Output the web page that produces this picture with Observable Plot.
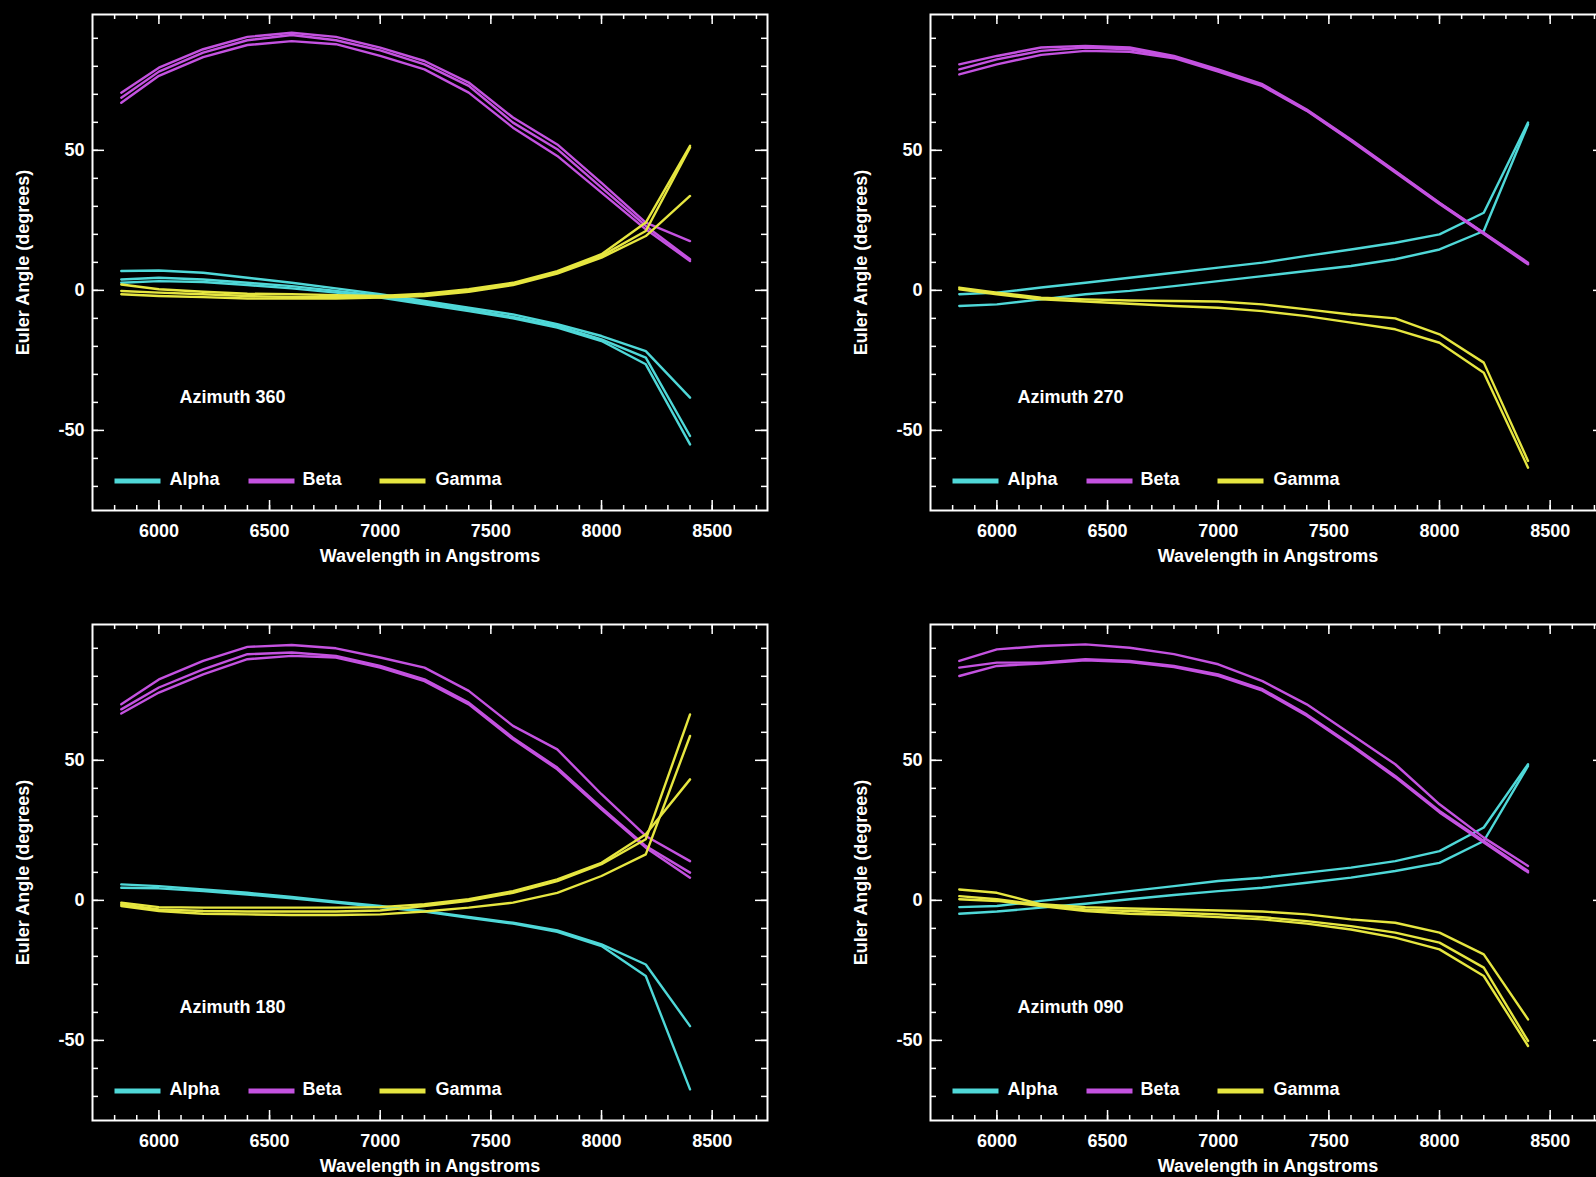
<!DOCTYPE html>
<html><head><meta charset="utf-8">
<script src="https://cdn.jsdelivr.net/npm/d3@7"></script>
<script src="https://cdn.jsdelivr.net/npm/@observablehq/plot@0.6"></script>
<style>
html,body{margin:0;padding:0;background:#000;}
#root{position:relative;width:1596px;height:1177px;overflow:hidden;background:#000;}
.panel{position:absolute;width:800px;height:580px;}
.panel svg{max-width:none !important;display:block;}
</style></head><body><div id="root"></div>
<script>
// ---- data ----
const wavelengths = [5830, 6000, 6200, 6400, 6600, 6800, 7000, 7200, 7400, 7600, 7800, 8000, 8200, 8400];
const seriesNames = ["Alpha", "Beta", "Gamma"];
const seriesColors = ["#4fd8d8", "#c452e0", "#e6e640"];
const xTickValues = [6000, 6500, 7000, 7500, 8000, 8500];
const yTickValues = [-50, 0, 50];
const xAxisTitle = "Wavelength in Angstroms";
const yAxisTitle = "Euler Angle (degrees)";

const az360Alpha = [
  [6.9, 7.1, 6.3, 4.5, 2.7, 0.7, -1.4, -3.8, -6.2, -8.6, -12.1, -16.3, -21.7, -38.3],
  [3.9, 4.5, 3.9, 2.7, 1.5, -0.2, -2.0, -4.4, -6.8, -9.5, -12.7, -17.5, -24.0, -52.0],
  [2.7, 3.3, 3.0, 1.9, 0.7, -0.8, -2.6, -5.0, -7.4, -10.0, -13.3, -18.1, -26.4, -55.0]
];
const az360Beta = [
  [70.6, 79.5, 86.1, 90.5, 92.0, 90.5, 86.7, 81.9, 74.2, 61.7, 52.1, 38.4, 24.2, 17.6],
  [68.8, 78.1, 84.9, 89.3, 91.2, 89.3, 85.7, 80.7, 73.0, 59.9, 50.4, 36.7, 23.0, 11.1],
  [67.0, 76.6, 83.3, 87.6, 89.0, 87.9, 83.7, 78.9, 70.6, 58.1, 48.0, 34.9, 21.8, 10.5]
];
const az360Gamma = [
  [2.1, 0.4, -0.5, -1.2, -1.4, -1.7, -2.0, -1.2, 0.4, 2.7, 6.9, 12.9, 24.2, 51.6],
  [-0.2, -0.8, -1.4, -2.0, -2.4, -2.4, -2.4, -1.7, 0.0, 2.4, 6.3, 12.3, 21.2, 51.0],
  [-1.4, -2.0, -2.4, -2.9, -2.9, -2.9, -2.6, -2.0, -0.5, 1.9, 6.0, 11.7, 19.4, 33.7]
];

const az270Alpha = [
  [-1.4, -0.8, 1.0, 2.7, 4.5, 6.3, 8.1, 9.9, 12.3, 14.6, 17.0, 20.0, 27.7, 59.9],
  [-5.6, -5.0, -3.2, -1.4, -0.2, 1.5, 3.3, 5.1, 6.9, 8.7, 11.1, 14.6, 21.2, 59.3]
];
const az270Beta = [
  [80.7, 83.7, 86.7, 87.3, 86.7, 83.7, 78.9, 73.6, 64.6, 53.9, 42.6, 31.3, 20.6, 9.9],
  [78.9, 82.5, 85.5, 86.7, 86.1, 83.3, 78.6, 73.2, 64.3, 53.6, 42.4, 31.1, 20.4, 9.5],
  [77.1, 80.7, 84.1, 85.5, 85.2, 82.9, 78.1, 72.9, 64.1, 53.3, 42.1, 30.8, 20.1, 9.3]
];
const az270Gamma = [
  [1.0, -0.8, -2.6, -3.2, -3.6, -3.8, -4.0, -5.0, -6.8, -8.6, -10.0, -15.7, -25.8, -60.9],
  [0.4, -1.4, -3.2, -4.0, -4.8, -5.6, -6.2, -7.4, -9.2, -11.5, -13.9, -18.7, -29.4, -63.3]
];

const az180Alpha = [
  [5.7, 5.1, 3.9, 2.7, 1.2, -0.5, -2.0, -3.8, -5.9, -8.0, -10.7, -15.7, -22.9, -44.9],
  [4.5, 4.3, 3.3, 2.1, 0.7, -0.8, -2.4, -4.0, -6.2, -8.3, -11.2, -16.3, -27.0, -67.5]
];
const az180Beta = [
  [70.0, 78.9, 85.5, 90.5, 91.2, 90.0, 86.7, 83.1, 74.8, 62.3, 53.9, 37.9, 23.0, 14.0],
  [68.2, 76.0, 82.5, 87.9, 88.5, 87.3, 83.7, 78.9, 70.6, 58.1, 47.4, 33.1, 19.4, 9.9],
  [66.7, 74.2, 80.7, 86.1, 87.3, 86.7, 83.1, 78.3, 70.0, 57.5, 46.8, 32.5, 18.8, 8.1]
];
const az180Gamma = [
  [-0.8, -2.4, -2.6, -2.6, -2.6, -2.6, -2.4, -1.4, 0.4, 3.3, 7.5, 13.4, 23.6, 43.2],
  [-1.4, -3.2, -3.8, -4.0, -4.0, -4.0, -3.6, -2.0, -0.2, 2.7, 6.9, 12.9, 21.8, 66.4],
  [-2.0, -3.8, -4.8, -5.0, -5.2, -5.2, -5.0, -4.0, -2.6, -0.8, 2.7, 8.7, 16.4, 58.7]
];

const az090Alpha = [
  [-2.4, -2.0, -0.2, 1.5, 3.3, 5.1, 6.9, 8.1, 9.9, 11.7, 14.0, 17.6, 26.0, 48.6],
  [-4.8, -4.0, -2.6, -1.2, 0.4, 1.9, 3.3, 4.5, 6.3, 8.1, 10.5, 13.4, 21.2, 48.0]
];
const az090Beta = [
  [85.5, 89.6, 90.8, 91.4, 90.2, 87.9, 84.3, 78.3, 70.0, 59.3, 48.6, 34.3, 22.4, 12.3],
  [83.1, 84.9, 84.9, 86.1, 85.5, 83.7, 80.7, 75.4, 66.4, 55.7, 44.4, 31.9, 21.2, 10.5],
  [80.1, 83.7, 84.6, 85.7, 85.1, 83.3, 80.2, 74.9, 65.9, 55.2, 43.9, 31.4, 20.7, 10.0]
];
const az090Gamma = [
  [3.9, 2.7, -1.4, -2.4, -2.9, -3.2, -3.6, -4.0, -5.0, -6.8, -8.0, -11.5, -19.3, -42.5],
  [1.5, 0.4, -1.7, -3.2, -3.8, -4.4, -5.0, -6.0, -7.4, -9.2, -11.5, -15.1, -24.0, -50.2],
  [0.4, -0.2, -2.0, -3.8, -4.8, -5.2, -6.0, -6.8, -8.3, -10.4, -13.3, -17.5, -27.0, -52.0]
];

const panelLabels = ["Azimuth 360", "Azimuth 270", "Azimuth 180", "Azimuth 090"];
const panelAlpha = [az360Alpha, az270Alpha, az180Alpha, az090Alpha];
const panelBeta = [az360Beta, az270Beta, az180Beta, az090Beta];
const panelGamma = [az360Gamma, az270Gamma, az180Gamma, az090Gamma];

// ---- layout ----
const W = 800, H = 580, ML = 92, MR = 33, MT = 14, MB = 70;
const plotW = W - ML - MR, plotH = H - MT - MB;
const panelPos = [[0, 0], [838, 0], [0, 610], [838, 610]];

const hline = {draw(ctx, size) { const h = Math.sqrt(size / Math.PI); ctx.moveTo(-h, 0); ctx.lineTo(h, 0); }};

const xMinor = d3.range(5800, 8750, 100);
const yMinor = d3.range(-70, 98, 10);

function buildRows(i) {
  const out = [];
  [panelAlpha[i], panelBeta[i], panelGamma[i]].forEach((lines, s) => {
    lines.forEach((vals, k) => vals.forEach((v, j) => out.push({w: wavelengths[j], v, series: seriesNames[s], key: seriesNames[s] + k})));
  });
  return out;
}

const root = document.getElementById("root");
panelLabels.forEach((label, i) => {
  const rows = buildRows(i);
  const white = "#ffffff";
  const legendOffsets = [[45, 77], [179, 210], [310, 343]];
  const legendMarks = [];
  seriesNames.forEach((name, s) => {
    legendMarks.push(Plot.dot([name], {frameAnchor: "bottom-left", dx: legendOffsets[s][0], dy: -29.5, r: 23, symbol: hline, fill: "none", stroke: seriesColors[s], strokeWidth: 5}));
    legendMarks.push(Plot.text([name], {text: d => d, frameAnchor: "bottom-left", dx: legendOffsets[s][1], dy: -31, textAnchor: "start", lineAnchor: "middle", fill: white}));
  });
  const chart = Plot.plot({
    width: W, height: H, marginLeft: ML, marginRight: MR, marginTop: MT, marginBottom: MB,
    style: {background: "#000", color: white, fontFamily: "'Liberation Sans', Arial, sans-serif", fontSize: "18px", fontWeight: "bold"},
    x: {domain: [5700, 8750], ticks: xTickValues, tickSize: 0, tickPadding: 14, tickFormat: d => String(d), label: null},
    y: {domain: [-78.6, 98.5], ticks: yTickValues, tickSize: 0, tickPadding: 8, tickFormat: d => String(d), label: null},
    color: {domain: seriesNames, range: seriesColors},
    marks: [
      Plot.line(rows, {x: "w", y: "v", z: "key", stroke: "series", strokeWidth: 2.4}),
      Plot.ruleX(xMinor, {x: d => d, stroke: white, strokeWidth: 1.5, insetTop: plotH - 5}),
      Plot.ruleX(xMinor, {x: d => d, stroke: white, strokeWidth: 1.5, insetBottom: plotH - 5}),
      Plot.ruleX(xTickValues, {x: d => d, stroke: white, strokeWidth: 1.5, insetTop: plotH - 10}),
      Plot.ruleX(xTickValues, {x: d => d, stroke: white, strokeWidth: 1.5, insetBottom: plotH - 10}),
      Plot.ruleY(yMinor, {y: d => d, stroke: white, strokeWidth: 1.5, insetRight: plotW - 6}),
      Plot.ruleY(yMinor, {y: d => d, stroke: white, strokeWidth: 1.5, insetLeft: plotW - 6}),
      Plot.ruleY(yTickValues, {y: d => d, stroke: white, strokeWidth: 1.5, insetRight: plotW - 12}),
      Plot.ruleY(yTickValues, {y: d => d, stroke: white, strokeWidth: 1.5, insetLeft: plotW - 12}),
      Plot.frame({stroke: white, strokeWidth: 2}),
      Plot.text([label], {text: d => d, frameAnchor: "bottom-left", dx: 87, dy: -113, textAnchor: "start", lineAnchor: "middle", fill: white}),
      Plot.text([xAxisTitle], {text: d => d, frameAnchor: "bottom", dy: 46, textAnchor: "middle", lineAnchor: "middle", fill: white}),
      Plot.text([yAxisTitle], {text: d => d, frameAnchor: "left", dx: -69, rotate: -90, textAnchor: "middle", lineAnchor: "middle", fill: white}),
      ...legendMarks
    ]
  });
  const div = document.createElement("div");
  div.className = "panel";
  div.style.left = panelPos[i][0] + "px";
  div.style.top = panelPos[i][1] + "px";
  div.appendChild(chart);
  root.appendChild(div);
});
</script></body></html>
